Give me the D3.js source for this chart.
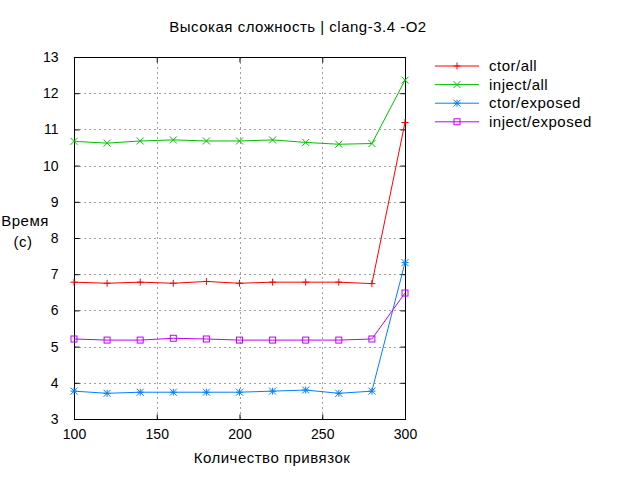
<!DOCTYPE html>
<html>
<head>
<meta charset="utf-8">
<script src="https://cdn.jsdelivr.net/npm/d3@7"></script>
<style>
  body { margin: 0; background: #fff; }
  svg text { font-family: "Liberation Sans", Arial, sans-serif; font-size: 14px; fill: #000; }
  svg text.lbl { font-size: 15px; letter-spacing: 0.5px; }
</style>
</head>
<body>
<svg id="chart" width="640" height="480"></svg>
<script>
const bindings = [100, 120, 140, 160, 180, 200, 220, 240, 260, 280, 300];
const ctorAll = [6.78, 6.75, 6.78, 6.75, 6.80, 6.75, 6.78, 6.78, 6.78, 6.74, 11.19];
const injectAll = [10.67, 10.62, 10.68, 10.71, 10.68, 10.68, 10.71, 10.64, 10.59, 10.61, 12.36];
const ctorExposed = [3.77, 3.71, 3.74, 3.74, 3.74, 3.74, 3.77, 3.80, 3.71, 3.77, 7.32];
const injectExposed = [5.21, 5.18, 5.18, 5.23, 5.21, 5.18, 5.18, 5.18, 5.18, 5.21, 6.48];
const xTicks = [100, 150, 200, 250, 300];
const yTicks = [3, 4, 5, 6, 7, 8, 9, 10, 11, 12, 13];

const series = [
  { name: "ctor/all", values: ctorAll, color: "#ff0000", marker: "plus" },
  { name: "inject/all", values: injectAll, color: "#00c000", marker: "cross" },
  { name: "ctor/exposed", values: ctorExposed, color: "#0080ff", marker: "star" },
  { name: "inject/exposed", values: injectExposed, color: "#c000ff", marker: "box" },
];

const svg = d3.select("#chart");
const pl = 74, pr = 405, pt = 57, pb = 419;
const x = d3.scaleLinear().domain([100, 300]).range([pl, pr]);
const y = d3.scaleLinear().domain([3, 13]).range([pb, pt]);

// grid
const grid = svg.append("g").attr("stroke", "#a0a0a0").attr("stroke-dasharray", "2,3").attr("stroke-width", 1);
xTicks.slice(1, -1).forEach((t) => {
  grid.append("line").attr("x1", Math.round(x(t)) + 0.5).attr("x2", Math.round(x(t)) + 0.5).attr("y1", pt).attr("y2", pb);
});
yTicks.slice(1, -1).forEach((t) => {
  grid.append("line").attr("x1", pl).attr("x2", pr).attr("y1", Math.round(y(t)) + 0.5).attr("y2", Math.round(y(t)) + 0.5);
});

// axes with inward ticks, mirrored
const tk = 5;
const axB = svg.append("g").attr("transform", `translate(0,${pb + 0.5})`)
  .call(d3.axisBottom(x).tickValues(xTicks).tickSizeInner(-tk).tickSizeOuter(0).tickPadding(10));
const axT = svg.append("g").attr("transform", `translate(0,${pt + 0.5})`)
  .call(d3.axisTop(x).tickValues(xTicks).tickSizeInner(-tk).tickSizeOuter(0).tickFormat(""));
const axL = svg.append("g").attr("transform", `translate(${pl + 0.5},0)`)
  .call(d3.axisLeft(y).tickValues(yTicks).tickSizeInner(-tk).tickSizeOuter(0).tickPadding(16));
const axR = svg.append("g").attr("transform", `translate(${pr + 0.5},0)`)
  .call(d3.axisRight(y).tickValues(yTicks).tickSizeInner(-tk).tickSizeOuter(0).tickFormat(""));
[axB, axT, axL, axR].forEach((a) => {
  a.select(".domain").remove();
  a.selectAll("line").attr("stroke", "#000");
  a.selectAll("text").attr("font-size", 14).attr("font-family", "Liberation Sans, Arial, sans-serif").attr("fill", "#000");
});
axB.selectAll("text").attr("dy", "0.71em");

svg.append("rect").attr("x", pl + 0.5).attr("y", pt + 0.5).attr("width", pr - pl).attr("height", pb - pt)
  .attr("fill", "none").attr("stroke", "#000").attr("stroke-width", 1);

function drawMarker(g, cx, cy, kind, color) {
  const s = 3.5;
  const p = d3.path();
  if (kind === "plus" || kind === "star") {
    p.moveTo(cx - s, cy); p.lineTo(cx + s, cy);
    p.moveTo(cx, cy - s); p.lineTo(cx, cy + s);
  }
  if (kind === "cross" || kind === "star") {
    p.moveTo(cx - s, cy - s); p.lineTo(cx + s, cy + s);
    p.moveTo(cx - s, cy + s); p.lineTo(cx + s, cy - s);
  }
  if (kind === "box") {
    g.append("rect").attr("x", cx - 3).attr("y", cy - 3).attr("width", 6).attr("height", 6)
      .attr("fill", "none").attr("stroke", color).attr("stroke-width", 1);
    return;
  }
  g.append("path").attr("d", p.toString()).attr("fill", "none").attr("stroke", color).attr("stroke-width", 1);
}

const line = d3.line().x((d) => x(d[0])).y((d) => y(d[1]));
series.forEach((s, i) => {
  const pts = bindings.map((b, j) => [b, s.values[j]]);
  const g = svg.append("g");
  g.append("path").attr("d", line(pts)).attr("fill", "none").attr("stroke", s.color).attr("stroke-width", 1);
  pts.forEach((p) => drawMarker(g, x(p[0]), y(p[1]), s.marker, s.color));

  // legend
  const ly = 66 + i * 18.6;
  const lg = svg.append("g");
  lg.append("line").attr("x1", 435).attr("x2", 479).attr("y1", ly).attr("y2", ly).attr("stroke", s.color);
  drawMarker(lg, 457, ly, s.marker, s.color);
  lg.append("text").attr("class", "lbl").attr("x", 489).attr("y", ly + 5).text(s.name);
});

svg.append("text").attr("class", "lbl").attr("x", 298).attr("y", 32).attr("text-anchor", "middle").text("Высокая сложность | clang-3.4 -O2");
svg.append("text").attr("class", "lbl").attr("x", 272).attr("y", 463).attr("text-anchor", "middle").text("Количество привязок");
svg.append("text").attr("class", "lbl").attr("x", 25).attr("y", 226).attr("text-anchor", "middle").text("Время");
svg.append("text").attr("class", "lbl").attr("x", 23).attr("y", 247).attr("text-anchor", "middle").text("(с)");
</script>
</body>
</html>
